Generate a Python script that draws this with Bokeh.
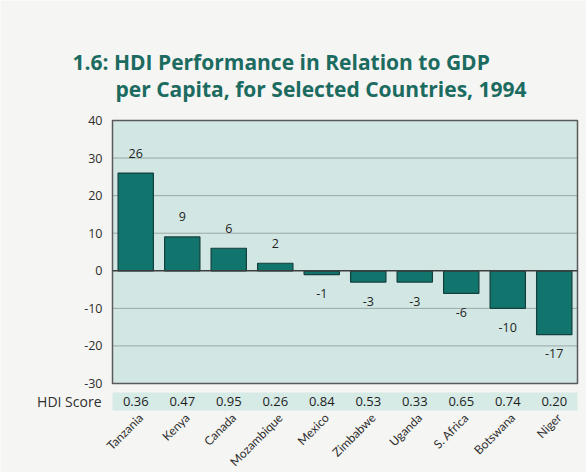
from math import pi
from bokeh.plotting import figure
from bokeh.core.properties import value
from bokeh.embed import file_html
from bokeh.resources import INLINE

countries = ["Tanzania", "Kenya", "Canada", "Mozambique", "Mexico",
             "Zimbabwe", "Uganda", "S. Africa", "Botswana", "Niger"]
hdi_rank_diff = [26, 9, 6, 2, -1, -3, -3, -6, -10, -17]
hdi_scores = ["0.36", "0.47", "0.95", "0.26", "0.84",
              "0.53", "0.33", "0.65", "0.74", "0.20"]
y_ticks = [-30, -20, -10, 0, 10, 20, 30, 40]
title_line1 = "1.6: HDI Performance in Relation to GDP"
title_line2 = "per Capita, for Selected Countries, 1994"
hdi_label = "HDI Score"

# ---- layout / style constants ----
W, H = 586, 472
BOX_LEFT_PX, BOX_TOP_PX = 112, 120      # where the chart box starts on the canvas
PX_PER_CAT = 46.5                        # width of one category slot
PX_PER_UNIT = 3.757                      # pixels per y unit
BAND_GAP_PX, BAND_H_PX = 9, 18           # HDI score strip under the box

PAGE_BG = "#f5f5f3"
BOX_BG = "#d2e7e4"
BAND_BG = "#d6eae6"
BAR = "#11746d"
BAR_LINE = "#143f3c"
TITLE_C = "#1c6b60"
TXT = "#2e2e2e"
FONT = value("Open Sans")

n = len(countries)
xs = [i + 0.5 for i in range(n)]
ymin, ymax = y_ticks[0], y_ticks[-1]
band_top = ymin - BAND_GAP_PX / PX_PER_UNIT
band_bot = band_top - BAND_H_PX / PX_PER_UNIT
band_mid = (band_top + band_bot) / 2

x_range = (-BOX_LEFT_PX / PX_PER_CAT, (W - BOX_LEFT_PX) / PX_PER_CAT)
y_range = (ymax - (H - BOX_TOP_PX) / PX_PER_UNIT, ymax + BOX_TOP_PX / PX_PER_UNIT)

p = figure(width=W, height=H, x_range=x_range, y_range=y_range,
           output_backend="svg", toolbar_location=None,
           min_border_left=0, min_border_right=0, min_border_top=0,
           min_border_bottom=0)
p.background_fill_color = PAGE_BG
p.border_fill_color = PAGE_BG
p.outline_line_color = None
p.axis.visible = False
p.grid.visible = False

# chart box and HDI strip
p.quad(left=[0], right=[n], bottom=[ymin], top=[ymax],
       fill_color=BOX_BG, line_color=None)
p.quad(left=[0], right=[n], bottom=[band_bot], top=[band_top],
       fill_color=BAND_BG, line_color=None)

# grid lines
inner = [t for t in y_ticks if t not in (0, ymin, ymax)]
p.segment(x0=[0] * len(inner), x1=[n] * len(inner), y0=inner, y1=inner,
          line_color="#98a8a5", line_width=1)
# box border
p.quad(left=[0], right=[n], bottom=[ymin], top=[ymax],
       fill_color=None, line_color="#5a5a5a", line_width=1.5)

# bars
p.vbar(x=xs, top=hdi_rank_diff, width=0.76, fill_color=BAR,
       line_color=BAR_LINE, line_width=1.2)
# zero line
p.segment(x0=[0], x1=[n], y0=[0], y1=[0], line_color="#3d3d3d", line_width=1.4)

# value labels
offs = [-20 if v > 0 else 19 for v in hdi_rank_diff]
p.text(x=xs, y=hdi_rank_diff, text=[str(v) for v in hdi_rank_diff],
       y_offset=offs, text_align="center", text_baseline="middle",
       text_font=FONT, text_font_size="12.5px", text_color="#1e1e1e")

# HDI scores
p.text(x=xs, y=[band_mid] * n, text=hdi_scores,
       text_align="center", text_baseline="middle",
       text_font=FONT, text_font_size="13px", text_color="#1e1e1e")

# y tick labels
p.text(x=[0] * len(y_ticks), y=y_ticks, text=[str(t) for t in y_ticks],
       x_offset=-10, text_align="right", text_baseline="middle",
       text_font=FONT, text_font_size="12.5px", text_color=TXT)
p.text(x=[0], y=[band_mid], text=[hdi_label], x_offset=-11,
       text_align="right", text_baseline="middle",
       text_font=FONT, text_font_size="14px", text_color=TXT)

# country names, rotated 45 degrees
p.text(x=xs, y=[band_bot] * n, text=countries, angle=pi / 4,
       x_offset=5, y_offset=5, text_align="right", text_baseline="middle",
       text_font=value("Lato"), text_font_size="12px", text_color=TXT)

# two-line title
p.text(x=[0], y=[ymax], text=[title_line1], x_offset=-40, y_offset=-59,
       text_align="left", text_baseline="alphabetic",
       text_font=FONT, text_font_style="bold", text_font_size="21px",
       text_color=TITLE_C)
p.text(x=[0], y=[ymax], text=[title_line2], x_offset=3, y_offset=-32,
       text_align="left", text_baseline="alphabetic",
       text_font=FONT, text_font_style="bold", text_font_size="21px",
       text_color=TITLE_C)

open("out.html", "w").write(file_html(p, INLINE))
